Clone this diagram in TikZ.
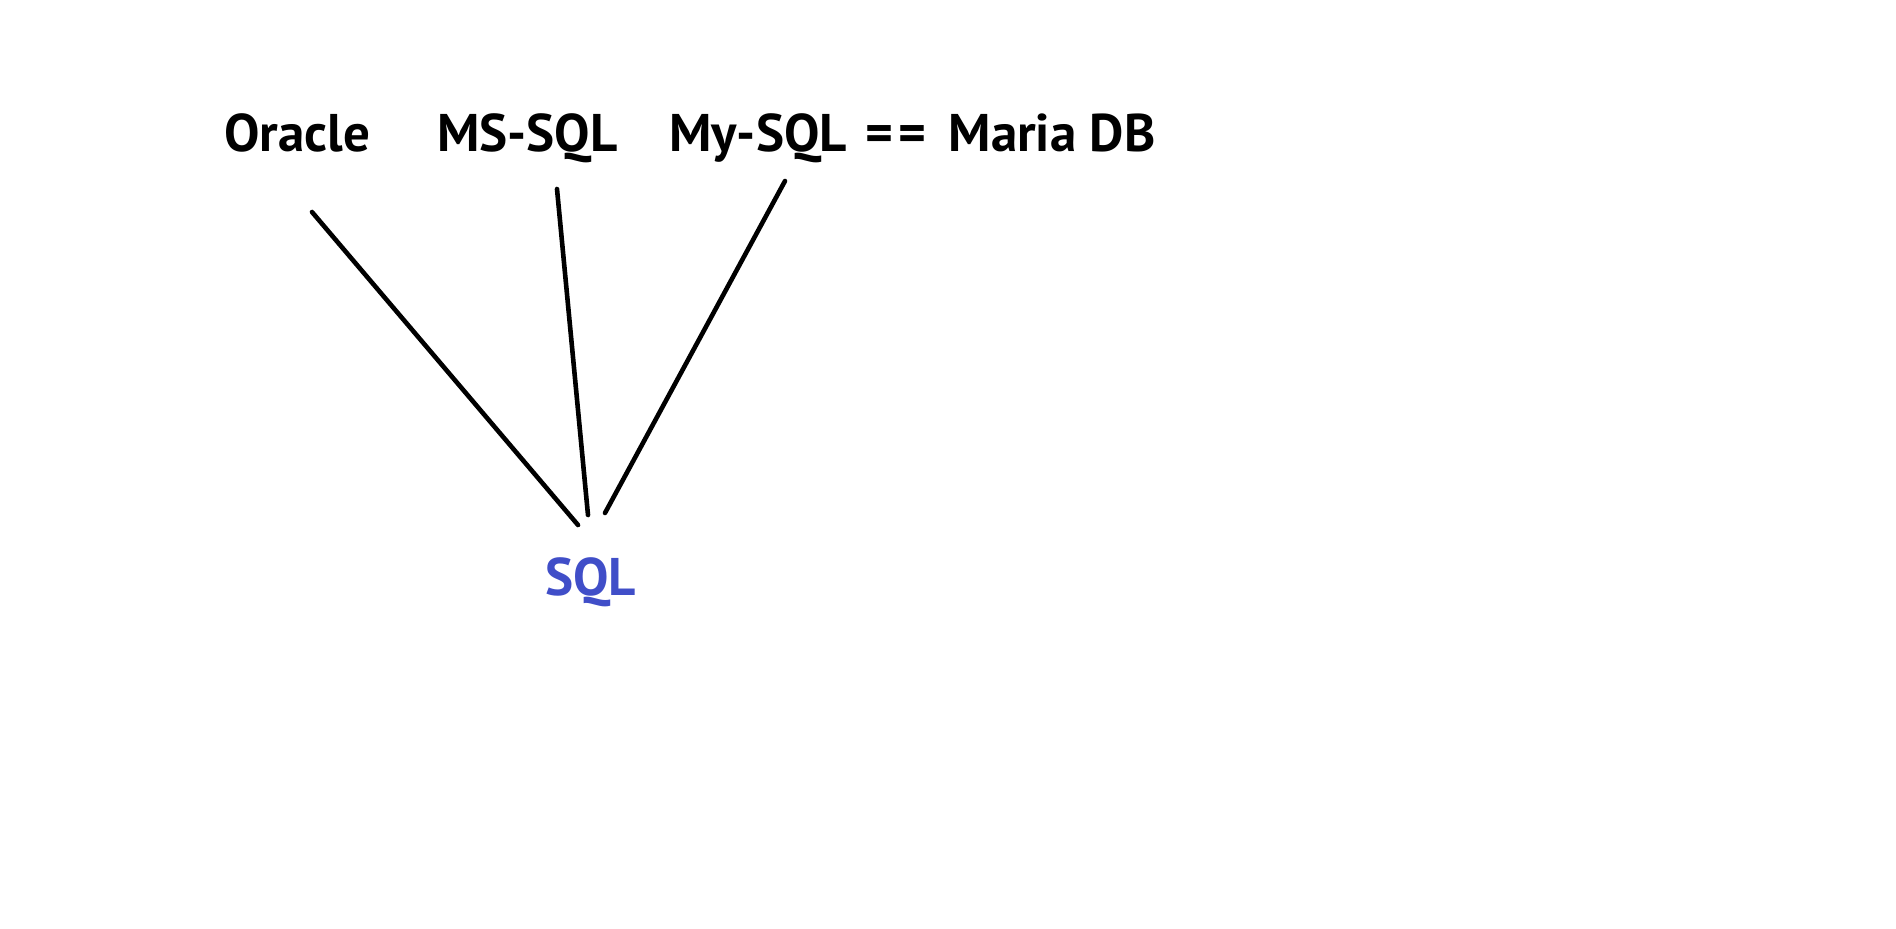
\documentclass[tikz,border=0pt]{standalone}
\usepackage{fontspec}
\setmainfont{PT Sans}
\definecolor{sqlblue}{RGB}{64,78,200}
\begin{document}
\begin{tikzpicture}[x=1pt,y=-1pt,
  db/.style={anchor=base west,inner sep=0pt,font=\fontsize{53}{60}\selectfont\bfseries},
  link/.style={line width=4.6pt,line cap=round,black}]
\useasboundingbox (0,0) rectangle (1896,929);
\node[db] (oracle) at (224,151) {Oracle};
\node[db] (mssql) at (437,151) {MS-SQL};
\node[db] (mysql) at (669,151) {My-SQL\hspace{19pt}=\kern5pt=\hspace{22pt}Maria DB};
\node[db,text=sqlblue] (sql) at (545,595) {SQL};
\coordinate (o1) at (312,212);
\coordinate (o2) at (578,525);
\coordinate (m1) at (557,189);
\coordinate (m2) at (588,515);
\coordinate (y1) at (785,181);
\coordinate (y2) at (605,513);
\draw[link] (o1) -- (o2);
\draw[link] (m1) -- (m2);
\draw[link] (y1) -- (y2);
\end{tikzpicture}
\end{document}
